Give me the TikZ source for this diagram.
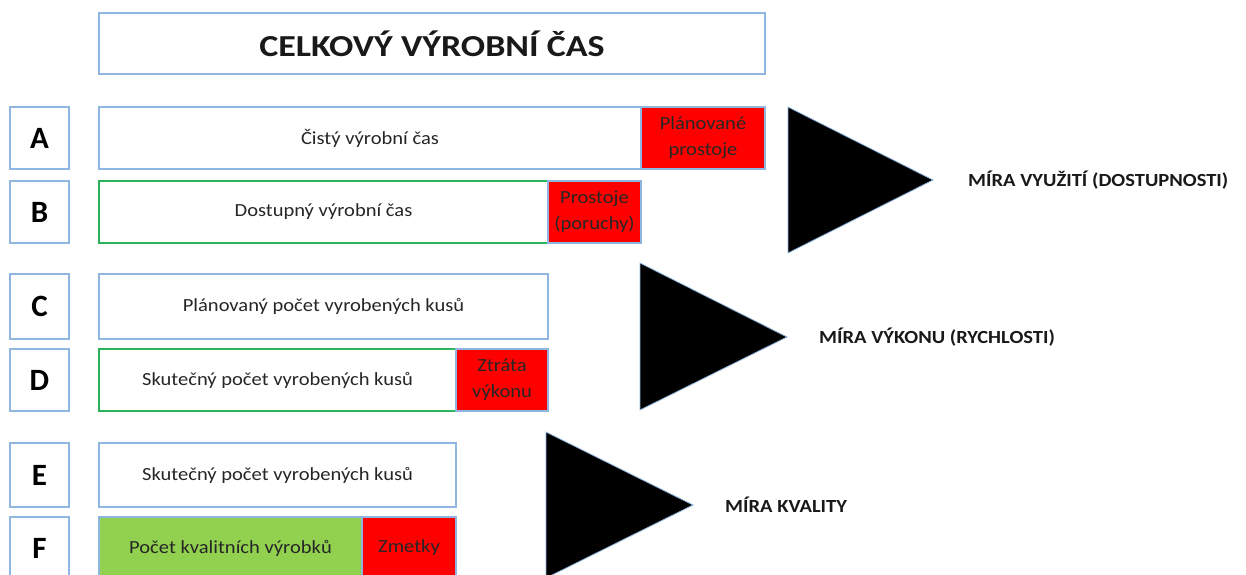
\documentclass[tikz,border=0pt]{standalone}
\usepackage{fontspec}
\setmainfont{Carlito}[FakeStretch=1.11]
\newfontfamily\headfont{Carlito}[FakeStretch=1.18]
\newfontfamily\letterfont{Carlito}
\definecolor{edgeblue}{HTML}{8FB6E0}
\definecolor{edgegreen}{HTML}{2DB35A}
\definecolor{lossred}{HTML}{FF0000}
\definecolor{goodgreen}{HTML}{92D050}
\definecolor{txt}{HTML}{262626}
\begin{document}
\begin{tikzpicture}[x=1pt,y=-1pt,
  base/.style={draw=edgeblue,line width=1.4pt,inner sep=0pt,outer sep=0pt,
    text=txt,font=\fontsize{18.5}{26}\selectfont,align=center},
  letterbox/.style={base,minimum width=59pt,font=\letterfont\fontsize{31}{34}\selectfont\bfseries,text=black},
  whitebar/.style={base,fill=white},
  greenedge/.style={base,draw=edgegreen},
  lossbox/.style={base,fill=lossred,text=black!85},
  goodbox/.style={base,fill=goodgreen},
  titlebox/.style={base,font=\headfont\fontsize{30.5}{34}\selectfont\bfseries,text=black!90},
  measure/.style={anchor=west,inner sep=0pt,font=\fontsize{18.5}{22}\selectfont\bfseries,text=black!90},
  wedge/.style={fill=black,draw=edgeblue,line width=0.8pt,line join=miter}]
\useasboundingbox (0,0) rectangle (1246,574);

% title
\node[titlebox,minimum width=666pt,minimum height=61pt] (title) at (432,43.5) {CELKOVÝ VÝROBNÍ ČAS};

% row letters
\node[letterbox,minimum height=62pt] (lA) at (39.5,138) {A};
\node[letterbox,minimum height=62pt] (lB) at (39.5,212) {B};
\node[letterbox,minimum height=65pt] (lC) at (39.5,306.5) {C};
\node[letterbox,minimum height=62pt] (lD) at (39.5,380) {D};
\node[letterbox,minimum height=64pt] (lE) at (39.5,475) {E};
\node[letterbox,minimum height=62pt] (lF) at (39.5,548) {F};

% A: net production time
\node[whitebar,minimum width=542pt,minimum height=62pt] (a1) at (370,138) {Čistý výrobní čas};
\node[lossbox,minimum width=124pt,minimum height=62pt] (a2) at (703,138) {Plánované\\prostoje};
% B: available production time
\node[greenedge,minimum width=449pt,minimum height=62pt] (b1) at (323.5,212) {Dostupný výrobní čas};
\node[lossbox,minimum width=93pt,minimum height=62pt] (b2) at (594.5,212) {Prostoje\\(poruchy)};
% C: planned output
\node[whitebar,minimum width=449pt,minimum height=65pt] (c1) at (323.5,306.5) {Plánovaný počet vyrobených kusů};
% D: actual output
\node[greenedge,minimum width=357pt,minimum height=62pt] (d1) at (277.5,380) {Skutečný počet vyrobených kusů};
\node[lossbox,minimum width=92pt,minimum height=62pt] (d2) at (502,380) {Ztráta\\výkonu};
% E: actual output
\node[whitebar,minimum width=357pt,minimum height=64pt] (e1) at (277.5,475) {Skutečný počet vyrobených kusů};
% F: good parts and scrap
\node[goodbox,minimum width=263pt,minimum height=62pt] (f1) at (230.5,548) {Počet kvalitních výrobků};
\node[lossbox,minimum width=94pt,minimum height=62pt] (f2) at (409,548) {Zmetky};

% wedges pointing to the three measures
\coordinate (w1t) at (788,107); \coordinate (w1b) at (788,253); \coordinate (w1p) at (933,180);
\coordinate (w2t) at (640,263); \coordinate (w2b) at (640,410); \coordinate (w2p) at (787,337);
\coordinate (w3t) at (546,432); \coordinate (w3b) at (546,578); \coordinate (w3p) at (693,505);
\draw[wedge] (w1t) -- (w1p) -- (w1b) -- cycle;
\draw[wedge] (w2t) -- (w2p) -- (w2b) -- cycle;
\draw[wedge] (w3t) -- (w3p) -- (w3b) -- cycle;

\node[measure] (m1) at (968,180) {MÍRA VYUŽITÍ (DOSTUPNOSTI)};
\node[measure] (m2) at (819,337) {MÍRA VÝKONU (RYCHLOSTI)};
\node[measure] (m3) at (725,505) {MÍRA KVALITY};
\end{tikzpicture}
\end{document}
